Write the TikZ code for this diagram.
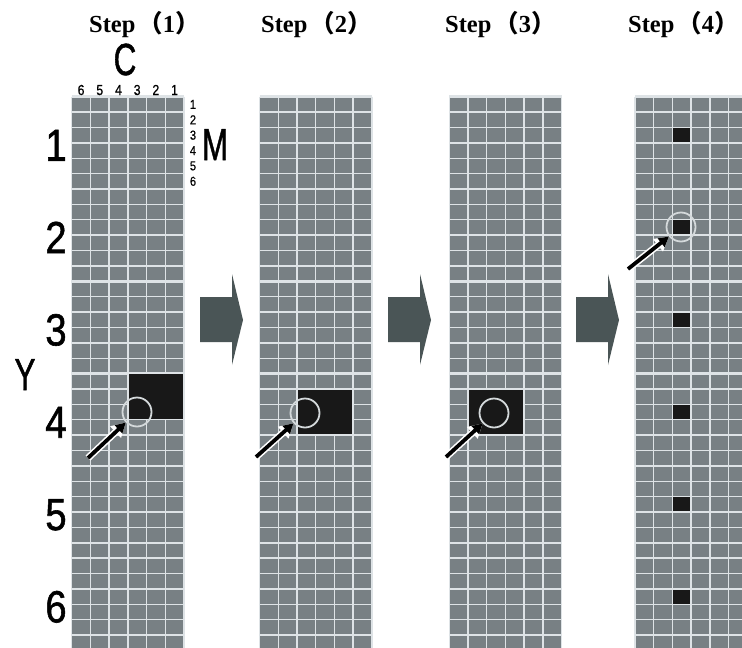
\documentclass[tikz,border=0pt]{standalone}
\usepackage{fontspec}
\setmainfont{Liberation Serif}
\newfontfamily\labfont{Liberation Sans}[FakeBold=1.3]
\newfontfamily\smallfont{Liberation Sans}[FakeBold=0.6]
\newfontfamily\cjkfont{Noto Sans CJK SC}
\usetikzlibrary{arrows.meta}

\definecolor{cellgray}{RGB}{120,128,132}
\definecolor{gridline}{RGB}{222,227,230}
\definecolor{ringgray}{RGB}{212,217,219}
\definecolor{flowarrow}{RGB}{74,85,86}
\definecolor{markblack}{RGB}{24,24,24}

% grid geometry (1 unit = 1pt, y grows downward)
\newcommand\cw{18.7}
\newcommand\rh{15.383}
\newcommand\gtop{96.7}

% fill the cells c1..c2, r1..r2 of the panel whose left edge is #1
\newcommand\markcells[5]{%
  \fill[markblack] ({#1+#2*\cw+0.7},{\gtop+#4*\rh+0.7}) rectangle ({#1+(#3+1)*\cw-0.7},{\gtop+(#5+1)*\rh-0.7});}

% block arrow between two panels, left edge at #1
\newcommand\flowarrow[1]{%
  \fill[flowarrow] (#1,297) -- ({#1+32},297) -- ({#1+32},274) -- ({#1+43},320)
    -- ({#1+32},365) -- ({#1+32},342) -- (#1,342) -- cycle;}

% step title text
\newcommand\steptext[1]{Step\hspace{3pt}{\cjkfont\bfseries （}#1{\cjkfont\bfseries ）}}

\tikzset{
  steplabel/.style={anchor=base west, inner sep=0pt, font=\bfseries\fontsize{24.5}{24.5}\selectfont},
  bigdigit/.style={anchor=base, inner sep=0pt, xscale=0.85, font=\labfont\fontsize{45}{45}\selectfont},
  bigletter/.style={anchor=base, inner sep=0pt, xscale=0.7, font=\labfont\fontsize{45}{45}\selectfont},
  coldigit/.style={anchor=base, inner sep=0pt, xscale=0.85, font=\smallfont\fontsize{14.5}{14.5}\selectfont},
  rowdigit/.style={anchor=center, inner sep=0pt, xscale=0.85, font=\smallfont\fontsize{13}{13}\selectfont},
  ring/.style={circle, draw=ringgray, line width=1.8pt, minimum size=29pt, inner sep=0pt},
  pointerhalo/.style={draw=white, line width=7pt, -{Triangle[length=14pt,width=15pt]}},
  pointer/.style={draw=black, line width=3.8pt, -{Triangle[length=10pt,width=10.5pt]}}
}

\begin{document}
\begin{tikzpicture}[x=1pt,y=-1pt]
\useasboundingbox (0,0) rectangle (742,648);
\clip (0,0) rectangle (742,648);
\fill[white] (0,0) rectangle (742,648);

% the four panels of 6 columns x 36 rows
\foreach \L in {71.7,259.6,449.3,635}{
  \fill[cellgray] (\L,\gtop) rectangle ({\L+6*\cw},660);
  \foreach \i in {0,...,6}
    \draw[gridline, line width=1.4pt] ({\L+\i*\cw},\gtop) -- ({\L+\i*\cw},660);
  \foreach \j in {0,...,36}{
    \pgfmathtruncatemacro\blk{mod(\j,6)==0 ? 1 : 0}
    \ifnum\blk=1
      \draw[gridline, line width=2.6pt] (\L,{\gtop+\j*\rh}) -- ({\L+6*\cw},{\gtop+\j*\rh});
    \else
      \draw[gridline, line width=1.4pt] (\L,{\gtop+\j*\rh}) -- ({\L+6*\cw},{\gtop+\j*\rh});
    \fi
  }
}

% marked cells
\markcells{71.7}{3}{5}{18}{20}
\markcells{259.6}{2}{4}{19}{21}
\markcells{449.3}{1}{3}{19}{21}
\foreach \r in {2,8,14,20,26,32}{\markcells{635}{2}{2}{\r}{\r}}

% block arrows between the steps
\flowarrow{200}
\flowarrow{388}
\flowarrow{576}

% step titles
\node[steplabel] (s1) at (89,32) {\steptext{1}};
\node[steplabel] (s2) at (261,32) {\steptext{2}};
\node[steplabel] (s3) at (445,32) {\steptext{3}};
\node[steplabel] (s4) at (628,32) {\steptext{4}};

% axis letters
\node[bigletter] (cC) at (125,75) {C};
\node[bigletter] (cM) at (215,160) {M};
\node[bigletter] (cY) at (25,390) {Y};

% block numbers along Y
\foreach \k in {1,...,6}
  \node[bigdigit] (y\k) at (56,{\gtop+(\k-0.5)*6*\rh+18}) {\k};

% column numbers along C
\foreach \k in {1,...,6}
  \node[coldigit] (c\k) at ({71.7+(6-\k+0.5)*\cw},95) {\k};

% row numbers along M
\foreach \k in {1,...,6}
  \node[rowdigit] (m\k) at (193,{\gtop+(\k-0.5)*\rh}) {\k};

% rings and pointers
\node[ring] (r1) at (137,412) {};
\node[ring] (r2) at (305,413) {};
\node[ring] (r3) at (494,413) {};
\node[ring] (r4) at (681,227) {};
\coordinate (p1) at (88,458);
\coordinate (p2) at (256,457);
\coordinate (p3) at (446,457);
\coordinate (p4) at (628,269);
\foreach \n in {1,...,4}{
  \draw[pointerhalo] (p\n) -- (r\n);
  \draw[pointer] (p\n) -- (r\n);
}
\end{tikzpicture}
\end{document}
